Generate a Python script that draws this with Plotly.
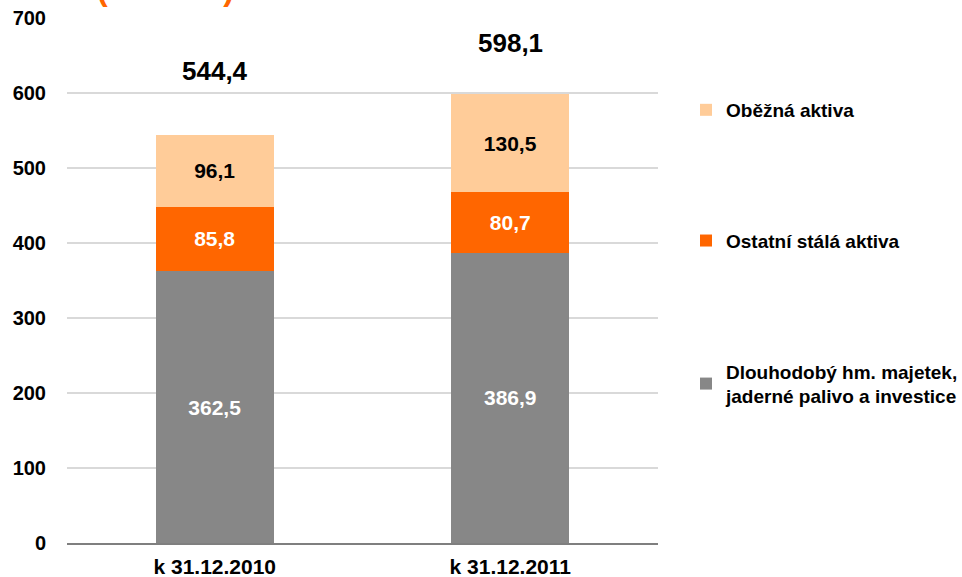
import plotly.graph_objects as go

categories = ["k 31.12.2010", "k 31.12.2011"]
dlouhodoby = [362.5, 386.9]
ostatni = [85.8, 80.7]
obezna = [96.1, 130.5]
totals = [544.4, 598.1]
series_names = ["Dlouhodobý hm. majetek,<br>jaderné palivo a investice",
                "Ostatní stálá aktiva", "Oběžná aktiva"]
y_ticks = [0, 100, 200, 300, 400, 500, 600, 700]
unit_label = "(mld. Kč)"

FONT = "Arial, Liberation Sans, sans-serif"
colors = ["#878787", "#FF6600", "#FFCC99"]
text_colors = ["white", "white", "black"]

fig = go.Figure()
for i, vals in enumerate([dlouhodoby, ostatni, obezna]):
    fig.add_trace(go.Bar(
        x=categories, y=vals, name=series_names[i],
        marker=dict(color=colors[i], line=dict(width=0)),
        texttemplate="%{y:.1f}", textposition="inside",
        insidetextanchor="middle", constraintext="none",
        textfont=dict(family=FONT, size=21, color=text_colors[i], weight="bold"),
        legendgroup=f"g{i}", legendrank=3 - i,
        hoverinfo="skip",
    ))

shifts = [64, 51]
for c, t, s in zip(categories, totals, shifts):
    fig.add_annotation(x=c, y=t, xref="x", yref="y", text=f"{t:.1f}".replace(".", ","),
                       showarrow=False, yanchor="middle", yshift=s,
                       font=dict(family=FONT, size=26, color="black", weight="bold"))

fig.add_annotation(x=(165 - 67) / 591, xref="paper", y=1, yref="paper", text=unit_label,
                   showarrow=False, xanchor="center", yanchor="bottom", yshift=9,
                   font=dict(family=FONT, size=32, color="#FF6600", weight="bold"))

fig.update_layout(
    width=962, height=577,
    margin=dict(l=67, r=304, t=18, b=34, autoexpand=False),
    paper_bgcolor="white", plot_bgcolor="white",
    barmode="stack", bargap=0.6,
    separators=", ",
    font=dict(family=FONT, size=19, color="black"),
    showlegend=True,
    legend=dict(xref="container", x=686 / 962, xanchor="left", y=0.861, yanchor="top",
                traceorder="grouped", tracegroupgap=103,
                font=dict(family=FONT, size=19, color="black", weight="bold"),
                bgcolor="rgba(0,0,0,0)"),
)
fig.update_xaxes(showline=True, linecolor="#7f7f7f", linewidth=2, showgrid=False,
                 ticks="", automargin=False, ticklabelstandoff=4,
                 tickfont=dict(family=FONT, size=21, color="black", weight="bold"))
fig.update_yaxes(range=[0, 700], tickvals=y_ticks, showgrid=True, gridcolor="#d9d9d9",
                 gridwidth=2, zeroline=False, showline=False, ticks="",
                 automargin=False, ticklabelstandoff=20,
                 tickfont=dict(family=FONT, size=20, color="black", weight="bold"))

fig.write_html("out.html", config={"displayModeBar": False},
               post_script="document.body.style.margin='0px';document.body.style.overflow='hidden';")
